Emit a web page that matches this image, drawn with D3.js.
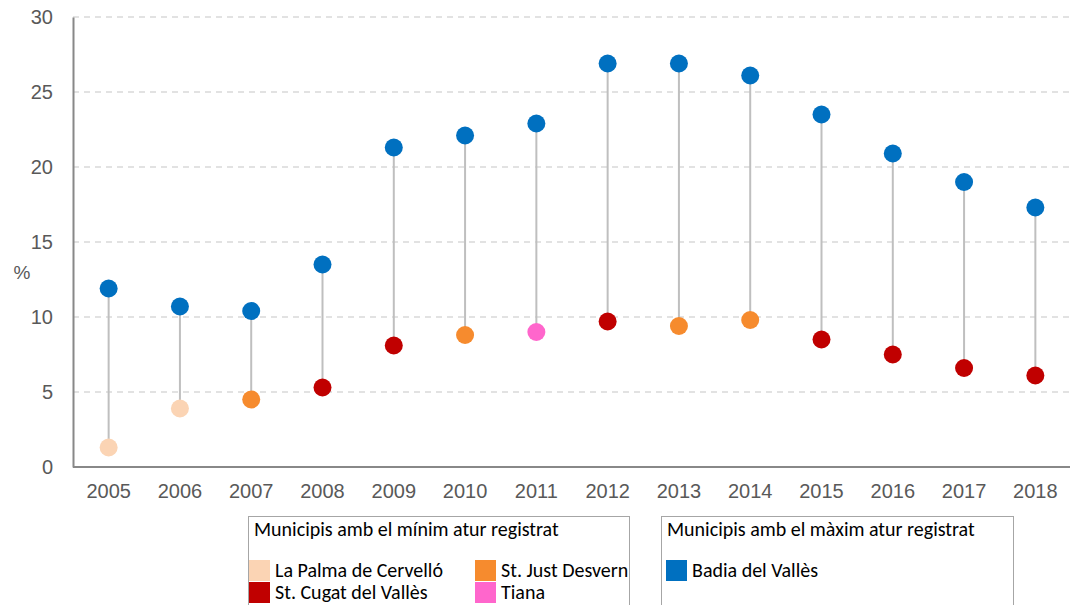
<!DOCTYPE html>
<html><head><meta charset="utf-8">
<script src="https://cdn.jsdelivr.net/npm/d3@7"></script>
<style>body{margin:0;background:#fff;}svg{display:block;}</style>
</head><body>
<svg id="c" width="1070" height="605"></svg>
<script>
const years = ["2005","2006","2007","2008","2009","2010","2011","2012","2013","2014","2015","2016","2017","2018"];
const maxValues = [11.9,10.7,10.4,13.5,21.3,22.1,22.9,26.9,26.9,26.1,23.5,20.9,19.0,17.3];
const minValues = [1.3,3.9,4.5,5.3,8.1,8.8,9.0,9.7,9.4,9.8,8.5,7.5,6.6,6.1];
const minMunicipality = ["La Palma de Cervelló","La Palma de Cervelló","St. Just Desvern","St. Cugat del Vallès","St. Cugat del Vallès","St. Just Desvern","Tiana","St. Cugat del Vallès","St. Just Desvern","St. Just Desvern","St. Cugat del Vallès","St. Cugat del Vallès","St. Cugat del Vallès","St. Cugat del Vallès"];
const maxMunicipality = "Badia del Vallès";
const yTicks = [0,5,10,15,20,25,30];
const minLegend = ["La Palma de Cervelló","St. Just Desvern","St. Cugat del Vallès","Tiana"];
const minLegendTitle = "Municipis amb el mínim atur registrat";
const maxLegendTitle = "Municipis amb el màxim atur registrat";
const colors = {"La Palma de Cervelló":"#FBD4B4","St. Just Desvern":"#F68B2E","St. Cugat del Vallès":"#C00000","Tiana":"#FF66CC","Badia del Vallès":"#0070C0"};

(function(){
const svg = d3.select("#c");
const pl = 73, pr = 1071, pt = 17, pb = 467;
const x = d3.scaleBand().domain(years).range([pl, pr]);
const y = d3.scaleLinear().domain([0,30]).range([pb, pt]);
const af = "Arial, 'Liberation Sans', sans-serif";

// grid
svg.append("g").selectAll("line").data(yTicks.filter(d=>d>0)).join("line")
  .attr("x1", pl).attr("x2", 1070).attr("y1", d=>y(d)).attr("y2", d=>y(d))
  .attr("stroke", "#d9d9d9").attr("stroke-width", 1.5).attr("stroke-dasharray", "6,5");

// axes
const yAxis = d3.axisLeft(y).tickValues(yTicks).tickSize(0).tickPadding(20);
const gy = svg.append("g").attr("transform", `translate(${pl},0)`).call(yAxis);
gy.select(".domain").attr("stroke", "#888").attr("stroke-width", 2);
gy.selectAll("text").attr("font-family", af).attr("font-size", 20).attr("fill", "#595959");

const xAxis = d3.axisBottom(x).tickSize(0).tickPadding(17);
const gx = svg.append("g").attr("transform", `translate(0,${pb})`).call(xAxis);
gx.select(".domain").attr("stroke", "#888").attr("stroke-width", 2).attr("d", `M${pl},0H1070`);
gx.selectAll("text").attr("font-family", af).attr("font-size", 20).attr("fill", "#595959");

svg.append("text").attr("x", 22).attr("y", 279).attr("text-anchor", "middle")
  .attr("font-family", af).attr("font-size", 19).attr("fill", "#595959").text("%");

// stems
const data = years.map((yr,i)=>({yr, hi:maxValues[i], lo:minValues[i], m:minMunicipality[i]}));
svg.append("g").selectAll("line").data(data).join("line")
  .attr("x1", d=>x(d.yr)+x.bandwidth()/2).attr("x2", d=>x(d.yr)+x.bandwidth()/2)
  .attr("y1", d=>y(d.hi)).attr("y2", d=>y(d.lo))
  .attr("stroke", "#bfbfbf").attr("stroke-width", 2);

svg.append("g").selectAll("circle").data(data).join("circle")
  .attr("cx", d=>x(d.yr)+x.bandwidth()/2).attr("cy", d=>y(d.lo)).attr("r", 9)
  .attr("fill", d=>colors[d.m]);
svg.append("g").selectAll("circle").data(data).join("circle")
  .attr("cx", d=>x(d.yr)+x.bandwidth()/2).attr("cy", d=>y(d.hi)).attr("r", 9)
  .attr("fill", colors[maxMunicipality]);

// legends
const lf = "Carlito, Lato, 'Open Sans', sans-serif";
function legendBox(x0, x1, title, items, cols, inset) {
  const g = svg.append("g");
  g.append("rect").attr("x", x0+0.5).attr("y", 516.5).attr("width", x1-x0).attr("height", 100)
    .attr("fill", "#fff").attr("stroke", "#a6a6a6").attr("stroke-width", 1);
  g.append("text").attr("x", x0+6).attr("y", 536).attr("font-family", lf).attr("font-size", 20).attr("fill", "#000").text(title);
  items.forEach((it, i) => {
    const col = i % cols, row = Math.floor(i / cols);
    const sx = x0 + inset + col*226, sy = 560 + row*22;
    g.append("rect").attr("x", sx).attr("y", sy).attr("width", 21).attr("height", 21).attr("fill", colors[it]);
    g.append("text").attr("x", sx+26).attr("y", sy+17).attr("font-family", lf).attr("font-size", 20).attr("fill", "#000").text(it);
  });
}
legendBox(248, 629, minLegendTitle, minLegend, 2, 1);
legendBox(661, 1013, maxLegendTitle, [maxMunicipality], 1, 5);
})();
</script>
</body></html>
